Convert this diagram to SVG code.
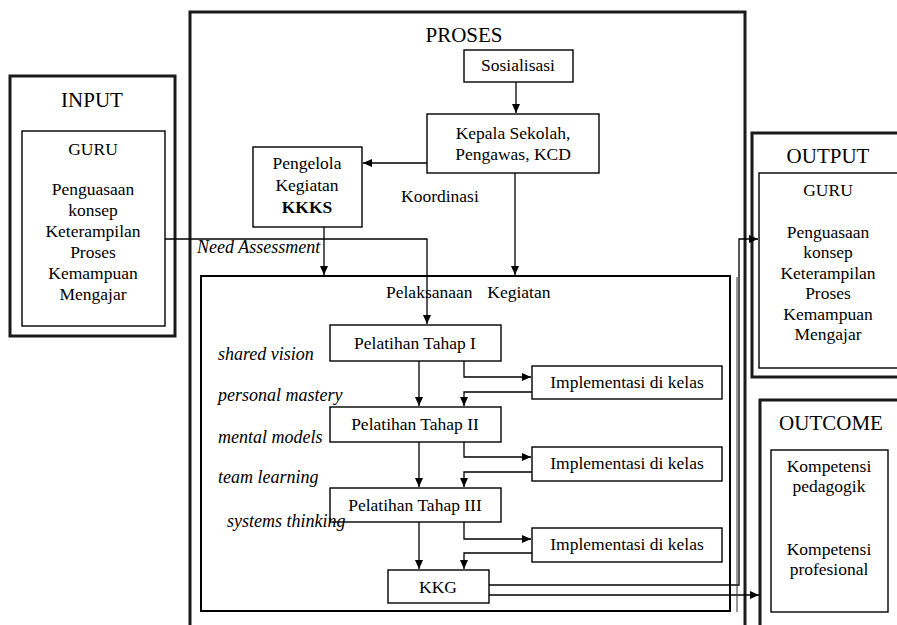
<svg xmlns="http://www.w3.org/2000/svg" width="897" height="625" viewBox="0 0 897 625">
<defs>
<style>
.box{fill:#fff;stroke:#000;stroke-width:1.4}
.nb{fill:none;stroke:#000;stroke-width:1.4}
.outer{fill:none;stroke:#1a1a1a;stroke-width:3}
.mid{fill:none;stroke:#000;stroke-width:2}
.t{font-family:"Liberation Serif","Times New Roman",serif;font-size:17.5px;fill:#000}
.c{text-anchor:middle}
.i{font-style:italic;font-size:18px}
.ti{font-size:21px}
.b{font-weight:bold}
.ln{fill:none;stroke:#000;stroke-width:1.3}
.thin{fill:none;stroke:#333;stroke-width:1}
</style>
<marker id="ah" markerWidth="10" markerHeight="10" refX="9" refY="5" orient="auto" markerUnits="userSpaceOnUse">
<path d="M0,1 L9,5 L0,9 Z" fill="#000"/>
</marker>
</defs>
<rect width="897" height="625" fill="#fff"/>

<g id="input">
<rect class="outer" x="10" y="76" width="165" height="260"/>
<rect class="nb" x="22" y="131" width="143" height="195"/>
<text class="t c ti" x="92" y="107">INPUT</text>
<text class="t c" x="93" y="155">GURU</text>
<text class="t c" x="93" y="195">Penguasaan</text>
<text class="t c" x="93" y="216">konsep</text>
<text class="t c" x="93" y="237">Keterampilan</text>
<text class="t c" x="93" y="258">Proses</text>
<text class="t c" x="93" y="279">Kemampuan</text>
<text class="t c" x="93" y="300">Mengajar</text>
</g>

<g id="proses">
<rect class="outer" x="190" y="12" width="555" height="640"/>
<text class="t c ti" x="464" y="42">PROSES</text>
</g>

<g id="sosialisasi">
<rect class="box" x="464" y="50" width="109" height="32"/>
<text class="t c" x="518" y="71">Sosialisasi</text>
</g>

<g id="kepala">
<rect class="box" x="427" y="114" width="172" height="59"/>
<text class="t c" x="513" y="139">Kepala Sekolah,</text>
<text class="t c" x="513" y="160">Pengawas, KCD</text>
</g>

<g id="pengelola">
<rect class="box" x="253" y="147" width="109" height="80"/>
<text class="t c" x="307" y="169">Pengelola</text>
<text class="t c" x="307" y="191">Kegiatan</text>
<text class="t c b" x="307" y="213">KKKS</text>
</g>

<g id="pelaksanaan">
<rect class="mid" x="201" y="276" width="529" height="335"/>
<text class="t" x="386" y="298" xml:space="preserve" word-spacing="3">Pelaksanaan  Kegiatan</text>
</g>

<g id="pt1">
<rect class="box" x="330" y="325" width="171" height="36"/>
<text class="t c" x="415" y="349">Pelatihan Tahap I</text>
</g>
<g id="impl1">
<rect class="box" x="532" y="366" width="190" height="33"/>
<text class="t c" x="627" y="388">Implementasi di kelas</text>
</g>
<g id="pt2">
<rect class="box" x="330" y="407" width="171" height="35"/>
<text class="t c" x="415" y="430">Pelatihan Tahap II</text>
</g>
<g id="impl2">
<rect class="box" x="532" y="447" width="190" height="34"/>
<text class="t c" x="627" y="469">Implementasi di kelas</text>
</g>
<g id="pt3">
<rect class="box" x="330" y="488" width="171" height="34"/>
<text class="t c" x="415" y="511">Pelatihan Tahap III</text>
</g>
<g id="impl3">
<rect class="box" x="532" y="528" width="190" height="34"/>
<text class="t c" x="627" y="550">Implementasi di kelas</text>
</g>
<g id="kkg">
<rect class="box" x="388" y="570" width="101" height="33"/>
<text class="t c" x="438" y="593">KKG</text>
</g>

<g id="labels">
<text class="t i" x="197" y="253">Need Assessment</text>
<text class="t" x="401" y="202">Koordinasi</text>
<text class="t i" x="218" y="360">shared vision</text>
<text class="t i" x="218" y="401">personal mastery</text>
<text class="t i" x="218" y="443">mental models</text>
<text class="t i" x="218" y="483">team learning</text>
<text class="t i" x="227" y="527">systems thinking</text>
</g>

<g id="output">
<rect class="outer" x="752" y="133" width="160" height="244"/>
<rect class="nb" x="759" y="173" width="150" height="195"/>
<text class="t c ti" x="828" y="163">OUTPUT</text>
<text class="t c" x="828" y="196">GURU</text>
<text class="t c" x="828" y="238">Penguasaan</text>
<text class="t c" x="828" y="258">konsep</text>
<text class="t c" x="828" y="279">Keterampilan</text>
<text class="t c" x="828" y="299">Proses</text>
<text class="t c" x="828" y="320">Kemampuan</text>
<text class="t c" x="828" y="340">Mengajar</text>
</g>

<g id="outcome">
<rect class="outer" x="760" y="400" width="150" height="240"/>
<rect class="nb" x="771" y="450" width="117" height="162"/>
<text class="t c ti" x="831" y="430">OUTCOME</text>
<text class="t c" x="829" y="472">Kompetensi</text>
<text class="t c" x="829" y="492">pedagogik</text>
<text class="t c" x="829" y="555">Kompetensi</text>
<text class="t c" x="829" y="575">profesional</text>
</g>

<g id="connectors">
<path class="ln" d="M516,82 V113" marker-end="url(#ah)"/>
<path class="ln" d="M427,163 H363" marker-end="url(#ah)"/>
<path class="ln" d="M515,173 V275" marker-end="url(#ah)"/>
<path class="ln" d="M324,227 V275" marker-end="url(#ah)"/>
<path class="ln" d="M165,239 H427 V324" marker-end="url(#ah)"/>
<path class="ln" d="M419,361 V406" marker-end="url(#ah)"/>
<path class="ln" d="M464,361 V377 H531" marker-end="url(#ah)"/>
<path class="ln" d="M532,392 H464 V406" marker-end="url(#ah)"/>
<path class="ln" d="M419,442 V487" marker-end="url(#ah)"/>
<path class="ln" d="M464,442 V457 H531" marker-end="url(#ah)"/>
<path class="ln" d="M532,472 H464 V487" marker-end="url(#ah)"/>
<path class="ln" d="M419,522 V569" marker-end="url(#ah)"/>
<path class="ln" d="M464,522 V539 H531" marker-end="url(#ah)"/>
<path class="ln" d="M532,553 H464 V569" marker-end="url(#ah)"/>
<path class="ln" d="M489,585 H739 V239 H758" marker-end="url(#ah)"/>
<path class="ln" d="M489,595 H759" marker-end="url(#ah)"/>
<path class="thin" d="M737,277 V612"/>
</g>
</svg>
